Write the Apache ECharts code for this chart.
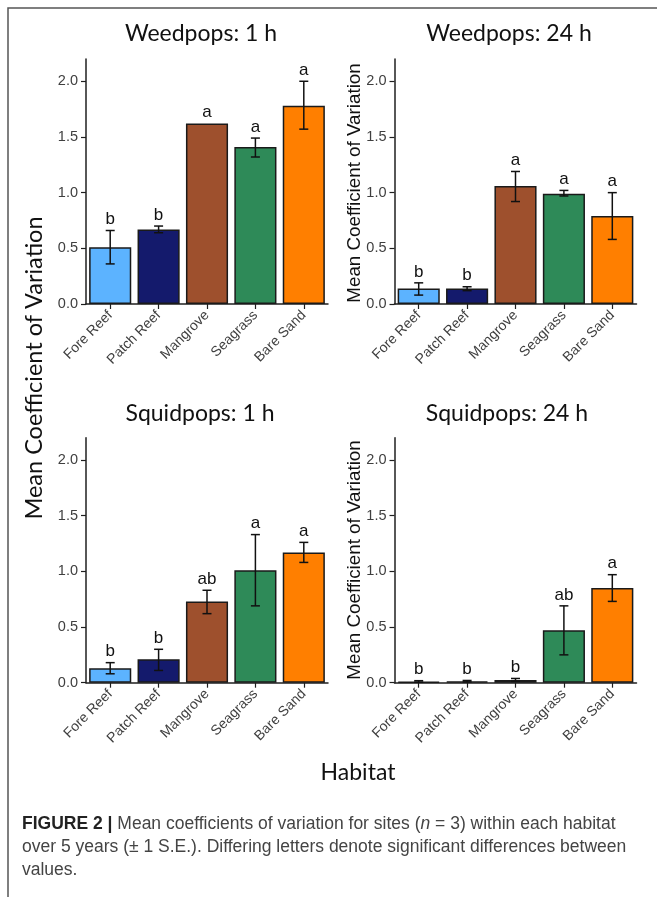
<!DOCTYPE html>
<html><head><meta charset="utf-8">
<script src="https://cdn.jsdelivr.net/npm/echarts@6/dist/echarts.min.js"></script>
<style>html,body{margin:0;padding:0;background:#fff}#c{width:657px;height:897px}</style>
</head><body><div id="c"></div>
<script>
// ---------- data ----------
const categories = ['Fore Reef', 'Patch Reef', 'Mangrove', 'Seagrass', 'Bare Sand'];
const yTicks = [0, 0.5, 1, 1.5, 2];
const panelTitles = ['Weedpops: 1 h', 'Weedpops: 24 h', 'Squidpops: 1 h', 'Squidpops: 24 h'];

const weed1Mean = [0.51, 0.67, 1.62, 1.41, 1.78];
const weed1Low = [0.36, 0.64, 1.62, 1.32, 1.57];
const weed1High = [0.66, 0.70, 1.62, 1.49, 2.00];
const weed1Letters = ['b', 'b', 'a', 'a', 'a'];

const weed24Mean = [0.14, 0.14, 1.06, 0.99, 0.79];
const weed24Low = [0.08, 0.12, 0.92, 0.97, 0.58];
const weed24High = [0.19, 0.155, 1.19, 1.02, 1.00];
const weed24Letters = ['b', 'b', 'a', 'a', 'a'];

const squid1Mean = [0.13, 0.21, 0.73, 1.01, 1.17];
const squid1Low = [0.08, 0.11, 0.62, 0.69, 1.08];
const squid1High = [0.18, 0.30, 0.83, 1.33, 1.26];
const squid1Letters = ['b', 'b', 'ab', 'a', 'a'];

const squid24Mean = [0.01, 0.012, 0.025, 0.47, 0.85];
const squid24Low = [0.005, 0.007, 0.012, 0.25, 0.73];
const squid24High = [0.018, 0.02, 0.038, 0.69, 0.97];
const squid24Letters = ['b', 'b', 'b', 'ab', 'a'];

const yAxisName = 'Mean Coefficient of Variation';
const xAxisName = 'Habitat';
const captionLines = [
  '{b|FIGURE 2 |} Mean coefficients of variation for sites ({i|n} = 3) within each habitat',
  'over 5 years (\u00B1 1 S.E.). Differing letters denote significant differences between',
  'values.'
];

// ---------- styles ----------
const barColors = ['#5CB3FF', '#141A6C', '#9E502D', '#2E8A58', '#FF7F00'];
const AX = '#1f1f1f';
const TICKC = '#3f3f3f';
const SANS = '"Liberation Sans", Arial, sans-serif';
const HUM = 'Lato, "Open Sans", sans-serif';

const panels = [
  {mean: weed1Mean, low: weed1Low, high: weed1High, letters: weed1Letters},
  {mean: weed24Mean, low: weed24Low, high: weed24High, letters: weed24Letters},
  {mean: squid1Mean, low: squid1Low, high: squid1High, letters: squid1Letters},
  {mean: squid24Mean, low: squid24Low, high: squid24High, letters: squid24Letters}
];
const grids = [
  {left: 86, top: 59, width: 242, height: 245},
  {left: 394.5, top: 59, width: 242, height: 245},
  {left: 86, top: 437.7, width: 242, height: 245},
  {left: 394.5, top: 437.7, width: 242, height: 245}
];

function errRender(p) {
  return function (params, api) {
    const i = api.value(0);
    const lv = api.value(1), hv = api.value(2);
    const lo = api.coord([i, lv]);
    const hi = api.coord([i, hv]);
    const x = lo[0], cw = 4.5;
    const st = {stroke: '#111', lineWidth: 1.5};
    const children = [];
    if (hv > lv) {
      children.push({type: 'line', shape: {x1: x, y1: lo[1], x2: x, y2: hi[1]}, style: st});
      children.push({type: 'line', shape: {x1: x - cw, y1: lo[1], x2: x + cw, y2: lo[1]}, style: st});
      children.push({type: 'line', shape: {x1: x - cw, y1: hi[1], x2: x + cw, y2: hi[1]}, style: st});
    }
    const topY = Math.min(hi[1], api.coord([i, p.mean[params.dataIndex]])[1]);
    children.push({type: 'text', style: {
      text: p.letters[params.dataIndex], x: x, y: topY - 2.5,
      align: 'center', verticalAlign: 'bottom',
      fontSize: 17, fontFamily: SANS, fill: '#111'
    }});
    return {type: 'group', children: children};
  };
}

const xAxes = [], yAxes = [], series = [];
panels.forEach((p, k) => {
  xAxes.push({
    type: 'category', gridIndex: k, data: categories, boundaryGap: true,
    axisLine: {show: true, lineStyle: {color: AX, width: 1.5}},
    axisTick: {show: true, alignWithLabel: true, length: 5, lineStyle: {color: AX, width: 1.2}},
    axisLabel: {rotate: 45, margin: 9, fontSize: 14, fontFamily: SANS, color: TICKC, interval: 0},
    splitLine: {show: false}
  });
  yAxes.push({
    type: 'value', gridIndex: k, min: 0, max: 2.2, interval: 0.5,
    axisLine: {show: true, lineStyle: {color: AX, width: 1.5}},
    axisTick: {show: true, length: 5, lineStyle: {color: AX, width: 1.2}, customValues: yTicks},
    axisLabel: {margin: 8, fontSize: 14.5, fontFamily: SANS, color: TICKC, customValues: yTicks,
      formatter: v => v.toFixed(1)},
    splitLine: {show: false}
  });
  series.push({
    type: 'bar', xAxisIndex: k, yAxisIndex: k, barCategoryGap: '13%',
    data: p.mean.map((v, i) => ({value: v, itemStyle: {color: barColors[i]}})),
    itemStyle: {borderColor: '#1a1a1a', borderWidth: 1.5},
    emphasis: {disabled: true}, silent: true, animation: false
  });
  series.push({
    type: 'custom', xAxisIndex: k, yAxisIndex: k,
    data: categories.map((c, i) => [i, p.low[i], p.high[i]]),
    encode: {x: 0, y: [1, 2]},
    renderItem: errRender(p), z: 5, silent: true, animation: false
  });
});

const graphic = [
  {type: 'polyline', shape: {points: [[8, 897], [8, 8], [657, 8]]},
   style: {stroke: '#555', lineWidth: 1.5, fill: null}, silent: true},
  {type: 'text', style: {text: panelTitles[0], x: 201, y: 34, align: 'center', verticalAlign: 'middle', fontSize: 23, fontFamily: HUM, fill: '#111'}},
  {type: 'text', style: {text: panelTitles[1], x: 509, y: 34, align: 'center', verticalAlign: 'middle', fontSize: 23, fontFamily: HUM, fill: '#111'}},
  {type: 'text', style: {text: panelTitles[2], x: 200, y: 414, align: 'center', verticalAlign: 'middle', fontSize: 23, fontFamily: HUM, fill: '#111'}},
  {type: 'text', style: {text: panelTitles[3], x: 507, y: 414, align: 'center', verticalAlign: 'middle', fontSize: 23, fontFamily: HUM, fill: '#111'}},
  {type: 'text', x: 34, y: 368, rotation: Math.PI / 2,
   style: {text: yAxisName, x: 0, y: 0, align: 'center', verticalAlign: 'middle', fontSize: 23.5, fontFamily: HUM, fill: '#111'}},
  {type: 'text', x: 355, y: 183, rotation: Math.PI / 2,
   style: {text: yAxisName, x: 0, y: 0, align: 'center', verticalAlign: 'middle', fontSize: 18.8, fontFamily: SANS, fill: '#111'}},
  {type: 'text', x: 355, y: 560, rotation: Math.PI / 2,
   style: {text: yAxisName, x: 0, y: 0, align: 'center', verticalAlign: 'middle', fontSize: 18.8, fontFamily: SANS, fill: '#111'}},
  {type: 'text', style: {text: xAxisName, x: 358, y: 773, align: 'center', verticalAlign: 'middle', fontSize: 23, fontFamily: HUM, fill: '#111'}}
];
const capY = [824, 847, 870];
const CAPF = '"Liberation Sans", Arial, sans-serif';
const CAPS = 17.5;
captionLines.forEach((t, j) => {
  graphic.push({type: 'text', style: {
    text: t, x: 22, y: capY[j], align: 'left', verticalAlign: 'middle',
    fontSize: CAPS, fontFamily: CAPF, fill: '#444',
    rich: {
      b: {fontSize: CAPS, fontFamily: CAPF, fontWeight: 'bold', fill: '#222'},
      i: {fontSize: CAPS, fontFamily: CAPF, fontStyle: 'italic', fill: '#444'}
    }
  }});
});

const chart = echarts.init(document.getElementById('c'), null, {renderer: 'canvas'});
chart.setOption({
  animation: false,
  backgroundColor: '#fff',
  textStyle: {fontFamily: SANS},
  grid: grids.map(g => Object.assign({containLabel: false}, g)),
  xAxis: xAxes,
  yAxis: yAxes,
  series: series,
  graphic: graphic
});
</script>
</body></html>
